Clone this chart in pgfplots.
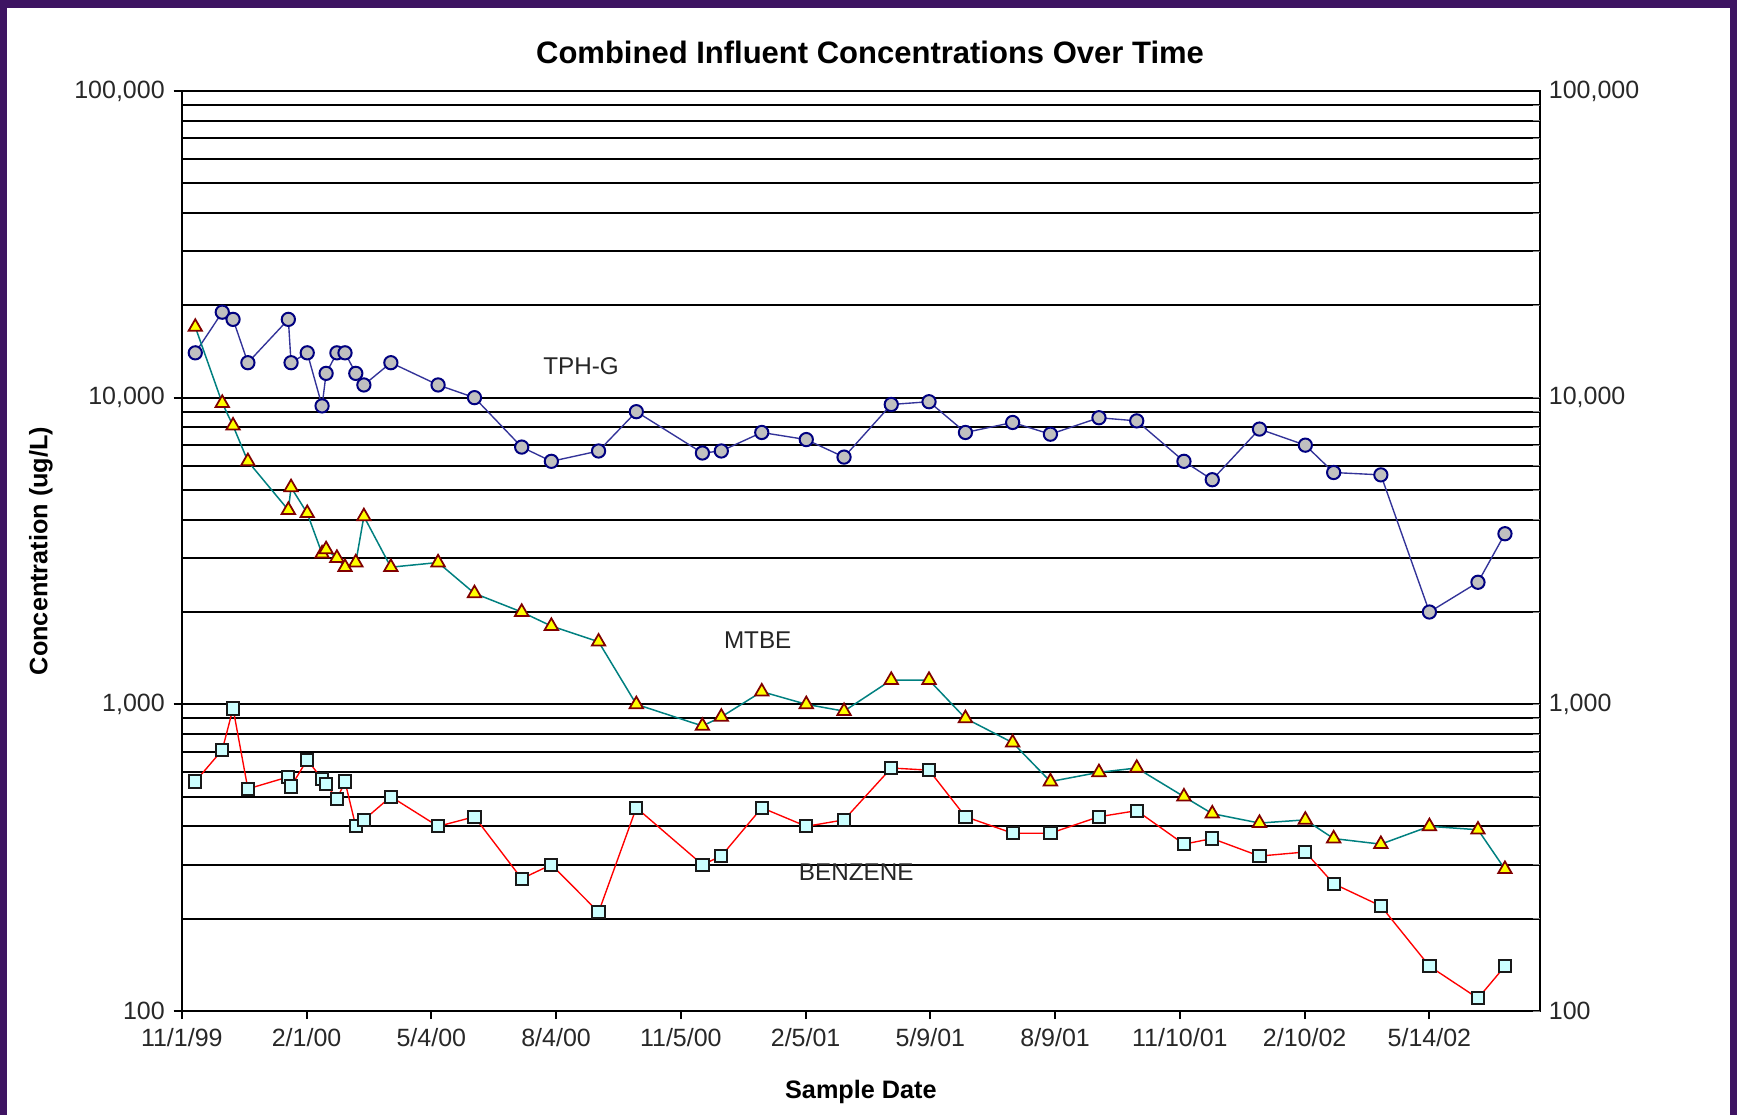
\documentclass[border=0pt]{standalone}
\usepackage{pgfplots}
\pgfplotsset{compat=1.18}
\usepackage{pgfplotstable}
\usepackage{fontspec}
\setmainfont{Liberation Sans}
\definecolor{bgpurple}{RGB}{62,20,98}
\definecolor{tphline}{RGB}{51,51,153}
\definecolor{tphedge}{RGB}{0,0,128}
\definecolor{tphfill}{RGB}{192,192,192}
\definecolor{mtbeline}{RGB}{0,128,128}
\definecolor{mtbefill}{RGB}{255,255,0}
\definecolor{mtbeedge}{RGB}{128,0,0}
\definecolor{bzline}{RGB}{255,0,0}
\definecolor{bzfill}{RGB}{204,255,255}
\definecolor{ticktext}{RGB}{40,40,40}

\pgfplotstableread{
day tph mtbe bz
10 14000 17000 560
30 19000 9600 710
38 18000 8100 970
49 13000 6200 530
79 18000 4300 580
81 13000 5100 540
93 14000 4200 660
104 9400 3100 570
107 12000 3200 550
115 14000 3000 490
121 14000 2800 560
129 12000 2900 400
135 11000 4100 420
155 13000 2800 500
190 11000 2900 400
217 10000 2300 430
252 6900 2000 270
274 6200 1800 300
309 6700 1600 210
337 9000 1000 460
386 6600 850 300
400 6700 910 320
430 7700 1100 460
463 7300 1000 400
491 6400 950 420
526 9500 1200 620
554 9700 1200 610
581 7700 900 430
616 8300 750 380
644 7600 560 380
680 8600 600 430
708 8400 620 450
743 6200 500 350
764 5400 440 365
799 7900 410 320
833 7000 420 330
854 5700 365 260
889 5600 350 220
925 2000 400 140
961 2500 390 110
981 3600 290 140
}\data

\begin{document}
\begin{tikzpicture}
\path[use as bounding box] (0,0) rectangle (694.8pt,446pt);
\fill[bgpurple] (0,0) rectangle (694.8pt,446pt);
\fill[white] (2.8pt,0) rectangle (692pt,442.8pt);
\begin{axis}[
  at={(72.72pt,41.6pt)}, anchor=south west,
  scale only axis, width=543.28pt, height=368pt,
  xmin=0, xmax=1007, ymode=log, ymin=100, ymax=100000,
  xtick={0,92.5,185,277.5,370,462.5,555,647.5,740,832.5,925},
  xticklabels={11/1/99,2/1/00,5/4/00,8/4/00,11/5/00,2/5/01,5/9/01,8/9/01,11/10/01,2/10/02,5/14/02},
  ytick={100,1000,10000,100000},
  yticklabels={100,{1,000},{10,000},{100,000}},
  minor ytick={200,300,400,500,600,700,800,900,2000,3000,4000,5000,6000,7000,8000,9000,20000,30000,40000,50000,60000,70000,80000,90000},
  xtick pos=bottom, ytick pos=left, tick align=outside,
  major tick length=3.3pt, minor tick length=0pt,
  ymajorgrids, yminorgrids,
  grid style={black, line width=0.8pt},
  minor grid style={black, line width=0.8pt},
  axis line style={black, line width=0.85pt},
  every tick/.style={black, line width=0.85pt},
  tick label style={font=\fontsize{10}{12}\selectfont, text=ticktext},
  title={Combined Influent Concentrations Over Time},
  title style={font=\fontsize{12.4}{14}\selectfont\bfseries, at={(axis description cs:0.5067,1.0301)}, anchor=base, yshift=-6pt},
  xlabel={Sample Date},
  xlabel style={font=\fontsize{10.1}{12}\selectfont\bfseries, at={(axis description cs:0.5,-0.0946)}, anchor=base},
  ylabel={Concentration (ug/L)},
  ylabel style={font=\fontsize{10.1}{12}\selectfont\bfseries, at={(axis description cs:-0.1037,0.5)}, anchor=center},
]
\addplot[color=tphline, line width=0.55pt, mark=*, mark size=2.65pt, mark options={fill=tphfill, draw=tphedge, line width=0.8pt}] table[x=day,y=tph]{\data};
\addplot[color=mtbeline, line width=0.6pt, mark=triangle*, mark size=3.1pt, mark options={fill=mtbefill, draw=mtbeedge, line width=0.7pt}] table[x=day,y=mtbe]{\data};
\addplot[color=bzline, line width=0.55pt, mark=square*, mark size=2.45pt, mark options={fill=bzfill, draw=black!90, line width=0.8pt}] table[x=day,y=bz]{\data};
\node[font=\fontsize{9.7}{11}\selectfont, text=black!85] at (axis cs:296,12690) {TPH-G};
\node[font=\fontsize{9.7}{11}\selectfont, text=black!85] at (axis cs:427,1615) {MTBE};
\node[font=\fontsize{9.7}{11}\selectfont, text=black!85] at (axis cs:500,283) {BENZENE};
\end{axis}
\begin{axis}[
  at={(72.72pt,41.6pt)}, anchor=south west,
  scale only axis, width=543.28pt, height=368pt,
  xmin=0, xmax=1007, ymode=log, ymin=100, ymax=100000,
  axis line style={draw=none},
  xtick=\empty,
  ytick={100,1000,10000,100000},
  yticklabels={100,{1,000},{10,000},{100,000}},
  minor ytick={},
  ytick pos=right, yticklabel pos=right,
  major tick length=0pt,
  tick label style={font=\fontsize{10}{12}\selectfont, text=ticktext},
]
\end{axis}
\end{tikzpicture}
\end{document}
